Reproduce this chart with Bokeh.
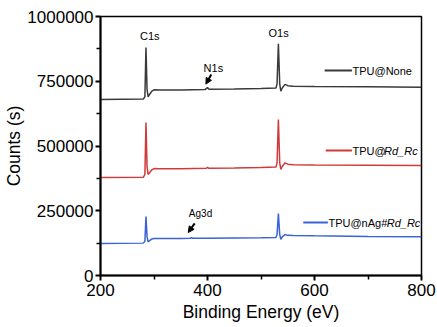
from bokeh.plotting import figure
from bokeh.models import FixedTicker, BasicTickFormatter, Label, Arrow, NormalHead
from bokeh.embed import file_html
from bokeh.resources import INLINE

# ---- data ----
x_none = [200, 280, 283, 285, 287, 289, 292, 296, 300, 310, 350, 395, 398, 400, 402, 405, 450, 500, 528, 530, 532.5, 535, 537, 540, 545, 550, 560, 600, 700, 800]
y_none = [680000, 681000, 690000, 880000, 720000, 690000, 700000, 712000, 717000, 716000, 716000, 718000, 722000, 726000, 720000, 719000, 720000, 722000, 724000, 740000, 895000, 740000, 712000, 725000, 738000, 733000, 731000, 730000, 729000, 727000]

x_rd = [200, 280, 283, 285, 287, 289, 292, 296, 300, 310, 350, 398, 400, 402, 450, 500, 528, 530, 532.5, 535, 537, 540, 545, 550, 560, 600, 700, 800]
y_rd = [378000, 379000, 390000, 591000, 420000, 390000, 398000, 408000, 413000, 412000, 412000, 414000, 418000, 414000, 415000, 417000, 419000, 435000, 602000, 435000, 410000, 422000, 435000, 430000, 428000, 427000, 426000, 425000]

x_ag = [200, 280, 283, 285, 287, 289, 292, 296, 300, 310, 350, 368, 370, 372, 400, 450, 500, 528, 530, 532.5, 535, 537, 540, 545, 550, 560, 600, 700, 800]
y_ag = [124000, 125000, 132000, 228000, 150000, 130000, 135000, 141000, 143000, 143000, 143000, 144000, 146000, 144000, 144000, 145000, 146000, 147000, 158000, 239000, 158000, 140000, 150000, 158000, 155000, 154000, 153000, 151000, 150000]

y_ticks = [0, 250000, 500000, 750000, 1000000]
x_ticks = [200, 400, 600, 800]

FONT = "Liberation Sans"
C_NONE, C_RD, C_AG = "#3a3a3a", "#d03a3a", "#3a63d8"

p = figure(width=437, height=327, output_backend="svg", toolbar_location=None,
           x_range=(200, 800), y_range=(0, 1000000),
           min_border_left=100, min_border_right=16, min_border_top=16, min_border_bottom=52)
p.grid.visible = False
p.outline_line_color = "black"
p.outline_line_width = 1.5
p.background_fill_color = "white"
p.border_fill_color = "white"

p.line(x_none, y_none, line_color=C_NONE, line_width=1.5)
p.line(x_rd, y_rd, line_color=C_RD, line_width=1.5)
p.line(x_ag, y_ag, line_color=C_AG, line_width=1.5)

for ax in (p.xaxis[0], p.yaxis[0]):
    ax.axis_line_width = 2
    ax.axis_line_color = "black"
    ax.major_tick_line_color = "black"
    ax.major_tick_line_width = 2
    ax.minor_tick_line_color = "black"
    ax.minor_tick_line_width = 1.5
    ax.major_tick_out = 5
    ax.major_tick_in = 0
    ax.minor_tick_out = 4
    ax.minor_tick_in = 0
    ax.major_label_text_font = FONT
    ax.major_label_text_font_size = "17px"
    ax.major_label_text_color = "black"
    ax.axis_label_text_font = FONT
    ax.axis_label_text_font_size = "17.5px"
    ax.axis_label_text_font_style = "normal"
    ax.axis_label_text_color = "black"

p.xaxis.ticker = FixedTicker(ticks=x_ticks, minor_ticks=[300, 500, 700])
p.yaxis.ticker = FixedTicker(ticks=y_ticks, minor_ticks=[125000, 375000, 625000, 875000])
p.yaxis.formatter = BasicTickFormatter(use_scientific=False)
p.xaxis.axis_label = "Binding Energy (eV)"
p.yaxis.axis_label = "Counts (s)"
p.xaxis.major_label_standoff = 3
p.yaxis.major_label_standoff = 2
p.xaxis.axis_label_standoff = 3
p.yaxis.axis_label_standoff = 0

def lab(x, y, t, size="11px", style="normal", align="center"):
    p.add_layout(Label(x=x, y=y, text=t, text_font=FONT, text_font_size=size,
                       text_font_style=style, text_align=align, text_baseline="middle",
                       text_color="black"))

# ---- peak annotations ----
lab(292, 923000, "C1s")
lab(411, 803000, "N1s")
lab(533, 938000, "O1s")
lab(387, 239000, "Ag3d", size="10px")

for xs, ys, xe, ye in [(407, 776000, 397, 739000), (376, 201000, 364, 166000)]:
    p.add_layout(Arrow(end=NormalHead(size=6, fill_color="black", line_color="black"),
                       x_start=xs, y_start=ys, x_end=xe, y_end=ye,
                       line_color="black", line_width=2))

# ---- legend (manual, for partial italics) ----
p.segment(x0=[619, 621, 579], y0=[791500, 482600, 204600],
          x1=[670, 670, 625], y1=[791500, 482600, 204600],
          line_color=[C_NONE, C_RD, C_AG], line_width=2)
lab(671, 791500, "TPU@None", align="left")
lab(671, 482600, "TPU@", align="left")
lab(730, 482600, "Rd_Rc", style="italic", align="left")
lab(626, 204600, "TPU@nAg#", align="left")
lab(735, 204600, "Rd_Rc", style="italic", align="left")

open("out.html", "w").write(file_html(p, INLINE))
